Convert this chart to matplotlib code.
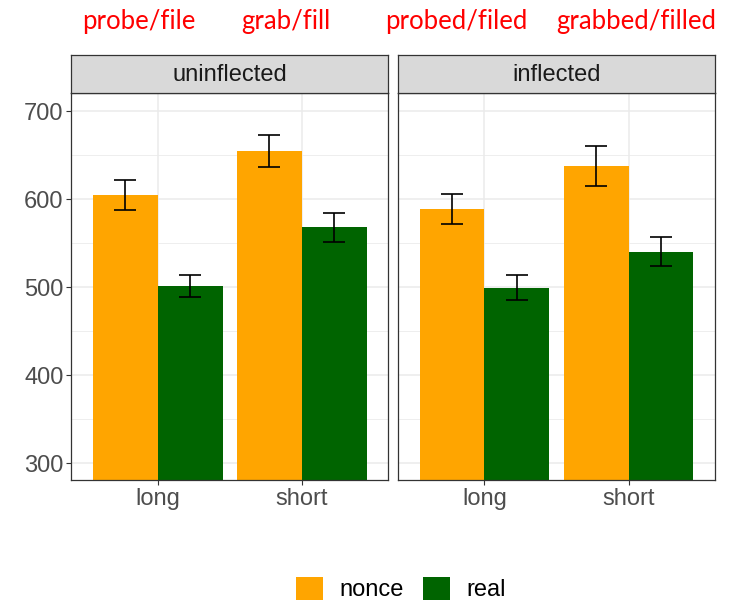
import numpy as np
import matplotlib
matplotlib.use("Agg")
import matplotlib.pyplot as plt
from matplotlib.patches import Patch

plt.rcParams["font.family"] = ["Liberation Sans", "DejaVu Sans"]

# reaction times (ms)
panels = ["uninflected", "inflected"]
lengths = ["long", "short"]
groups = ["nonce", "real"]
colors = {"nonce": "#FFA500", "real": "#006400"}

means = {
    "uninflected": {"nonce": [604.5, 654.5], "real": [501.1, 568.2]},
    "inflected": {"nonce": [588.6, 637.5], "real": [498.9, 539.8]},
}
err_low = {
    "uninflected": {"nonce": [587.8, 636.4], "real": [488.3, 551.5]},
    "inflected": {"nonce": [571.6, 615.2], "real": [484.8, 523.5]},
}
err_high = {
    "uninflected": {"nonce": [621.6, 672.7], "real": [513.6, 583.7]},
    "inflected": {"nonce": [605.3, 660.6], "real": [513.6, 556.4]},
}

top_labels = ["probe/file", "grab/fill", "probed/filed", "grabbed/filled"]
top_label_x = [139, 286, 456, 636]

W, H = 734, 603
fig = plt.figure(figsize=(W / 100, H / 100), dpi=100)

txt = 17
grey20 = "#333333"
lefts = [71.3, 398.0]
pw = 317.0
ptop, pbot = 93.0, 480.0
strip_top = 55.0

x = np.arange(len(lengths))
bw = 0.45
for i, p in enumerate(panels):
    ax = fig.add_axes([lefts[i] / W, 1 - pbot / H, pw / W, (pbot - ptop) / H])
    for j, g in enumerate(groups):
        xs = x + (j - 0.5) * bw
        m = np.array(means[p][g])
        ax.bar(xs, m, width=bw, color=colors[g], zorder=2)
        lo = m - np.array(err_low[p][g])
        hi = np.array(err_high[p][g]) - m
        ax.errorbar(xs, m, yerr=[lo, hi], fmt="none", ecolor="black",
                    elinewidth=1.2, capsize=8, capthick=1.2, zorder=3)
    ax.set_xlim(-0.6, 1.6)
    ax.set_ylim(280.7, 720.5)
    ax.set_xticks(x)
    ax.set_xticklabels(lengths)
    ax.set_yticks([300, 400, 500, 600, 700])
    ax.set_yticks([350, 450, 550, 650], minor=True)
    ax.grid(True, which="major", color="#EBEBEB", lw=1.1, zorder=0)
    ax.grid(True, which="minor", axis="y", color="#EBEBEB", lw=0.6, zorder=0)
    ax.set_axisbelow(True)
    ax.tick_params(axis="both", which="major", labelsize=txt, labelcolor="#4D4D4D",
                   color=grey20, length=3.5, width=0.8, pad=2)
    ax.tick_params(axis="y", which="minor", length=0)
    if i == 1:
        ax.tick_params(axis="y", which="major", left=False, labelleft=False)
    for s in ax.spines.values():
        s.set_color(grey20)
        s.set_linewidth(0.9)

    sax = fig.add_axes([lefts[i] / W, 1 - ptop / H, pw / W, (ptop - strip_top) / H])
    sax.set_facecolor("#D9D9D9")
    sax.set_xticks([])
    sax.set_yticks([])
    for s in sax.spines.values():
        s.set_color(grey20)
        s.set_linewidth(0.9)
    sax.text(0.5, 0.47, p, ha="center", va="center", fontsize=txt,
             color="#1A1A1A", transform=sax.transAxes)

for lab, lx in zip(top_labels, top_label_x):
    fig.text(lx / W, 1 - 29 / H, lab, ha="center", va="baseline",
             fontsize=18.5, color="red", family=["Lato", "DejaVu Sans"])

handles = [Patch(facecolor=colors[g], edgecolor="none") for g in groups]
fig.legend(handles, groups, loc="center", bbox_to_anchor=(401 / W, 1 - 589 / H),
           ncol=2, frameon=False, fontsize=txt, handlelength=1.15,
           handleheight=1.15, handletextpad=0.7, columnspacing=0.8,
           borderpad=0, borderaxespad=0)

fig.savefig("out.png", dpi=100)
